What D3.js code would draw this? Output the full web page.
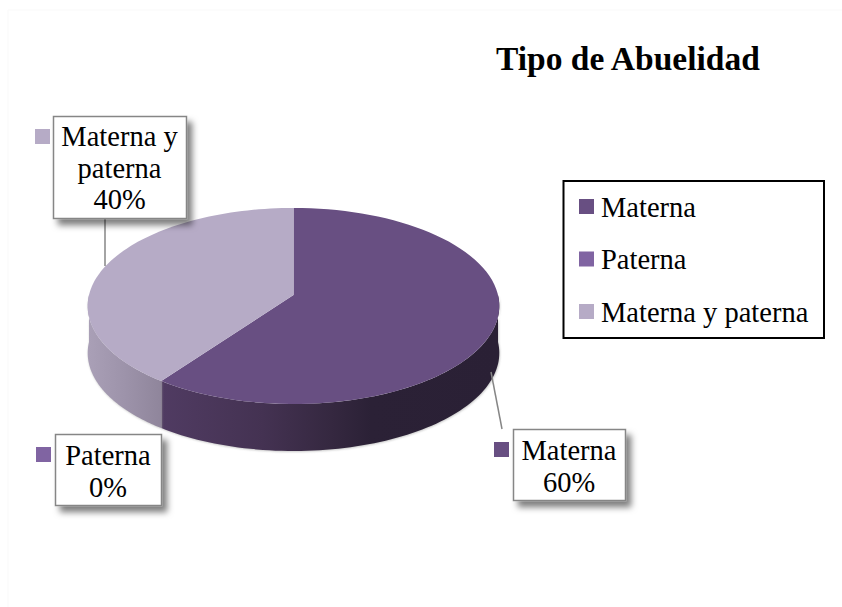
<!DOCTYPE html>
<html><head><meta charset="utf-8">
<script src="https://cdn.jsdelivr.net/npm/d3@7"></script>
<style>
html,body{margin:0;padding:0;background:#fff}
text{font-family:"Liberation Serif",serif;fill:#000}
</style></head><body>
<svg id="c" width="842" height="607" style="display:block"></svg>
<script>
const categories=["Materna","Paterna","Materna y paterna"];
const values=[60,0,40];
const percentLabels=["60%","0%","40%"];
const colors=["#684f82","#8064a2","#b6abc6"];
const titleText="Tipo de Abuelidad";

const svg=d3.select("#c");
const defs=svg.append("defs");
const f=defs.append("filter").attr("id","sh").attr("x","-20%").attr("y","-20%").attr("width","150%").attr("height","150%");
f.append("feDropShadow").attr("dx",5).attr("dy",6).attr("stdDeviation",3).attr("flood-color","#000").attr("flood-opacity",.5);
const fe=defs.append("filter").attr("id","edge").attr("x","-5%").attr("y","-5%").attr("width","110%").attr("height","110%");
fe.append("feGaussianBlur").attr("stdDeviation",.8);
const g1=defs.append("linearGradient").attr("id","wallDark").attr("gradientUnits","userSpaceOnUse").attr("x1",162).attr("x2",499).attr("y1",0).attr("y2",0);
[[0,"#503b62"],[.3,"#443252"],[.5,"#352840"],[.62,"#2b2136"],[1,"#2a2035"]].forEach(s=>g1.append("stop").attr("offset",s[0]).attr("stop-color",s[1]));
const g2=defs.append("linearGradient").attr("id","wallLight").attr("gradientUnits","userSpaceOnUse").attr("x1",87).attr("x2",162).attr("y1",0).attr("y2",0);
[[0,"#aaa0b7"],[.5,"#9d93aa"],[1,"#8f859b"]].forEach(s=>g2.append("stop").attr("offset",s[0]).attr("stop-color",s[1]));

// perspective projection of a flat disc
const cx=293.5,cy=295,R=204.5,S=96.8,k=0.112,depth=47;
const proj=(a,dz=0)=>{const u=Math.sin(a),v=-Math.cos(a),d=1-k*v;return [cx+R*u/d,cy+S*v/d+dz];};
const arcs=d3.pie().sort(null).value(d=>d)(values);
const samples=(a0,a1,dz)=>d3.range(0,81).map(i=>proj(a0+(a1-a0)*i/80,dz));
const line=d3.line();

// faint page edge (top and left only)
svg.append("path").attr("d","M8,607V10H842").attr("fill","none").attr("stroke","#f9f9f9").attr("stroke-width",1);

// walls: only the part of each slice on the viewer's side (PI/2 .. 3PI/2)
const wallCols=["url(#wallDark)",null,"url(#wallLight)"];
arcs.forEach((d,i)=>{
  if(d.value===0)return;
  const a0=Math.max(d.startAngle,Math.PI/2),a1=Math.min(d.endAngle,Math.PI*1.5);
  if(a1<=a0)return;
  const pts=samples(a0,a1,0).concat(samples(a1,a0,depth));
  svg.append("path").attr("d",line(pts)+"Z").attr("fill","#999").attr("opacity",.6).attr("filter","url(#edge)").attr("transform","translate(.6,.8)");
  svg.append("path").attr("d",line(pts)+"Z").attr("fill",wallCols[i]);
});
// top faces
arcs.forEach((d,i)=>{
  if(d.value===0)return;
  const pts=[[cx,cy]].concat(samples(d.startAngle,d.endAngle,0));
  svg.append("path").attr("d",line(pts)+"Z").attr("fill",colors[i]);
});

// title
svg.append("text").attr("x",496).attr("y",69.5)
  .attr("font-size",33.5).attr("font-weight","bold").text(titleText);

// legend
svg.append("rect").attr("x",563.5).attr("y",181).attr("width",260.5).attr("height",157)
  .attr("fill","#fff").attr("stroke","#000").attr("stroke-width",2);
const ly=d3.scalePoint().domain(categories).range([206.5,311.5]);
categories.forEach((c,i)=>{
  svg.append("rect").attr("x",579).attr("y",ly(c)-7.5).attr("width",15).attr("height",15).attr("fill",colors[i]);
  svg.append("text").attr("x",601).attr("y",ly(c)+10).attr("font-size",28.5).text(c);
});

// leader lines
svg.append("path").attr("d","M105,219V266").attr("stroke","#868686").attr("stroke-width",1.5).attr("fill","none");
svg.append("path").attr("d","M491,372L502,429").attr("stroke","#868686").attr("stroke-width",1.5).attr("fill","none");

// data labels
const boxes=[
 {i:0,x:513,y:429,w:112,h:71,base:460,lines:["Materna",percentLabels[0]],sx:494,sy:442},
 {i:1,x:55,y:434,w:106,h:71,base:465,lines:["Paterna",percentLabels[1]],sx:36,sy:447},
 {i:2,x:53,y:116,w:133,h:102,base:146,lines:["Materna y","paterna",percentLabels[2]],sx:35,sy:129}
];
boxes.forEach(b=>{
  svg.append("rect").attr("x",b.x+.5).attr("y",b.y+.5).attr("width",b.w).attr("height",b.h)
    .attr("fill","#fff").attr("stroke","#868686").attr("stroke-width",1.5).attr("filter","url(#sh)");
  svg.append("rect").attr("x",b.sx).attr("y",b.sy).attr("width",15).attr("height",15).attr("fill",colors[b.i]);
  b.lines.forEach((t,j)=>svg.append("text").attr("x",b.x+b.w/2).attr("y",b.base+j*31.7)
    .attr("text-anchor","middle").attr("font-size",28.5).text(t));
});
</script></body></html>
